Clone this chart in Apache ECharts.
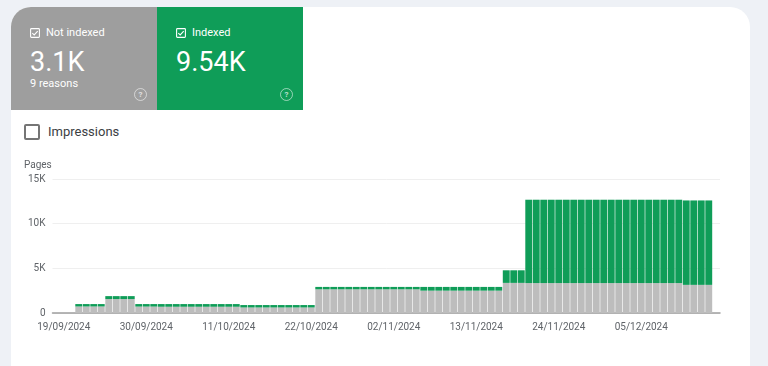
<!DOCTYPE html>
<html>
<head>
<meta charset="utf-8">
<script src="https://cdn.jsdelivr.net/npm/echarts@6.0.0/dist/echarts.min.js"></script>
<style>
  html, body { margin: 0; padding: 0; width: 768px; height: 366px; overflow: hidden; background: #eef1f6; font-family: Roboto, "Noto Sans", sans-serif; }
  .card { position: absolute; left: 11px; top: 7px; width: 739px; height: 380px; background: #fff; border-radius: 20px 20px 0 0; }
  .tile { position: absolute; top: 7px; width: 146px; height: 103px; color: #fff; }
  .tile.gray { left: 11px; background: #9e9e9e; border-radius: 20px 0 0 0; }
  .tile.green { left: 157px; background: #0f9d58; }
  .tile .head { position: absolute; left: 19px; top: 19px; font-size: 11px; line-height: 14px; display: flex; align-items: center; }
  .tile .head svg { margin-right: 6px; }
  .tile .big { position: absolute; left: 19px; top: 38px; font-size: 27px; line-height: 34px; }
  .tile .sub { position: absolute; left: 19px; top: 70px; font-size: 11px; line-height: 14px; }
  .help { position: absolute; right: 10px; top: 81px; width: 11px; height: 11px; border: 1.3px solid rgba(255,255,255,0.55); border-radius: 50%; font-size: 8px; line-height: 11px; text-align: center; color: rgba(255,255,255,0.7); font-weight: bold; }
  .imp { position: absolute; left: 24px; top: 124px; width: 12px; height: 12px; border: 2px solid #757575; border-radius: 2px; }
  .imp-label { position: absolute; left: 48px; top: 123px; font-size: 13px; line-height: 17px; color: #3c4043; }
  #chart { position: absolute; left: 0; top: 0; width: 768px; height: 366px; pointer-events: none; }
</style>
</head>
<body>
<div class="card"></div>
<div class="tile gray">
  <div class="head"><svg width="10" height="10" viewBox="0 0 10 10"><rect x="0.6" y="0.6" width="8.8" height="8.8" rx="0.8" fill="none" stroke="#fff" stroke-width="1.1"/><path d="M2.3 5.1 L4.2 6.9 L7.7 3.2" fill="none" stroke="#fff" stroke-width="1.1"/></svg>Not indexed</div>
  <div class="big">3.1K</div>
  <div class="sub">9 reasons</div>
  <div class="help">?</div>
</div>
<div class="tile green">
  <div class="head"><svg width="10" height="10" viewBox="0 0 10 10"><rect x="0.6" y="0.6" width="8.8" height="8.8" rx="0.8" fill="none" stroke="#fff" stroke-width="1.1"/><path d="M2.3 5.1 L4.2 6.9 L7.7 3.2" fill="none" stroke="#fff" stroke-width="1.1"/></svg>Indexed</div>
  <div class="big">9.54K</div>
  <div class="help">?</div>
</div>
<div class="imp"></div>
<div class="imp-label">Impressions</div>
<div id="chart"></div>
<script>
// days shown on the x axis
const dates = [
  "18/09/2024","19/09/2024","20/09/2024","21/09/2024","22/09/2024","23/09/2024","24/09/2024","25/09/2024","26/09/2024","27/09/2024","28/09/2024","29/09/2024","30/09/2024",
  "01/10/2024","02/10/2024","03/10/2024","04/10/2024","05/10/2024","06/10/2024","07/10/2024","08/10/2024","09/10/2024","10/10/2024","11/10/2024","12/10/2024","13/10/2024","14/10/2024","15/10/2024","16/10/2024","17/10/2024","18/10/2024","19/10/2024","20/10/2024","21/10/2024","22/10/2024","23/10/2024","24/10/2024","25/10/2024","26/10/2024","27/10/2024","28/10/2024","29/10/2024","30/10/2024","31/10/2024",
  "01/11/2024","02/11/2024","03/11/2024","04/11/2024","05/11/2024","06/11/2024","07/11/2024","08/11/2024","09/11/2024","10/11/2024","11/11/2024","12/11/2024","13/11/2024","14/11/2024","15/11/2024","16/11/2024","17/11/2024","18/11/2024","19/11/2024","20/11/2024","21/11/2024","22/11/2024","23/11/2024","24/11/2024","25/11/2024","26/11/2024","27/11/2024","28/11/2024","29/11/2024","30/11/2024",
  "01/12/2024","02/12/2024","03/12/2024","04/12/2024","05/12/2024","06/12/2024","07/12/2024","08/12/2024","09/12/2024","10/12/2024","11/12/2024","12/12/2024","13/12/2024","14/12/2024","15/12/2024"
];
const tickLabels = ["19/09/2024","30/09/2024","11/10/2024","22/10/2024","02/11/2024","13/11/2024","24/11/2024","05/12/2024"];

// not indexed pages (grey)
const notIndexed = [
  null,null,null,
  730,730,730,730,
  1560,1560,1560,1560,
  720,720,720,
  700,700,700,700,700,700,700,700,700,700,700,
  620,620,620,620,620,620,620,620,620,620,
  2650,2650,2650,2650,2650,2650,2650,2650,2650,2650,2650,2650,2650,2650,
  2500,2500,2500,2500,2500,2500,2500,2500,2500,2500,2500,
  3370,3370,3370,
  3350,3350,3350,3350,3350,3350,3350,3350,3350,3350,3350,3350,3350,3350,3350,3350,3350,3350,3350,3350,3350,
  3150,3150,3150,3150,
  null
];
// indexed pages (green)
const indexed = [
  null,null,null,
  270,270,270,270,
  330,330,330,330,
  280,280,280,
  300,300,300,300,300,300,300,300,300,300,300,
  270,270,270,270,270,270,270,270,270,270,
  270,270,270,270,270,270,270,270,270,270,270,270,270,270,
  420,420,420,420,420,420,420,420,420,420,420,
  1410,1410,1410,
  9330,9330,9330,9330,9330,9330,9330,9330,9330,9330,9330,9330,9330,9330,9330,9330,9330,9330,9330,9330,9330,
  9450,9450,9450,9450,
  null
];

const chart = echarts.init(document.getElementById("chart"));
chart.setOption({
  animation: false,
  textStyle: { fontFamily: "Roboto, 'Noto Sans', sans-serif" },
  grid: { left: 52.5, right: 48, top: 179, bottom: 53 },
  graphic: [
    { type: "text", left: 24, top: 160, style: { text: "Pages", fontSize: 10, fill: "#5f6368", fontFamily: "Roboto" } }
  ],
  xAxis: {
    type: "category",
    data: dates,
    axisTick: { show: false },
    axisLine: { lineStyle: { color: "#9e9e9e", width: 1.5 } },
    axisLabel: {
      interval: (i, v) => tickLabels.includes(v),
      color: "#5f6368",
      fontSize: 10,
      margin: 9
    }
  },
  yAxis: {
    type: "value",
    min: 0,
    max: 15000,
    interval: 5000,
    axisLabel: {
      color: "#5f6368",
      fontSize: 10,
      margin: 7,
      formatter: (v) => (v === 0 ? "0" : v / 1000 + "K")
    },
    splitLine: { lineStyle: { color: "#efefef" } }
  },
  series: [
    {
      name: "Not indexed",
      type: "bar",
      stack: "pages",
      data: notIndexed,
      barCategoryGap: "8%",
      itemStyle: { color: "#bdbdbd" },
      emphasis: { disabled: true }
    },
    {
      name: "Indexed",
      type: "bar",
      stack: "pages",
      data: indexed,
      barCategoryGap: "8%",
      itemStyle: { color: "#0f9d58" },
      emphasis: { disabled: true }
    }
  ]
});
</script>
</body>
</html>
